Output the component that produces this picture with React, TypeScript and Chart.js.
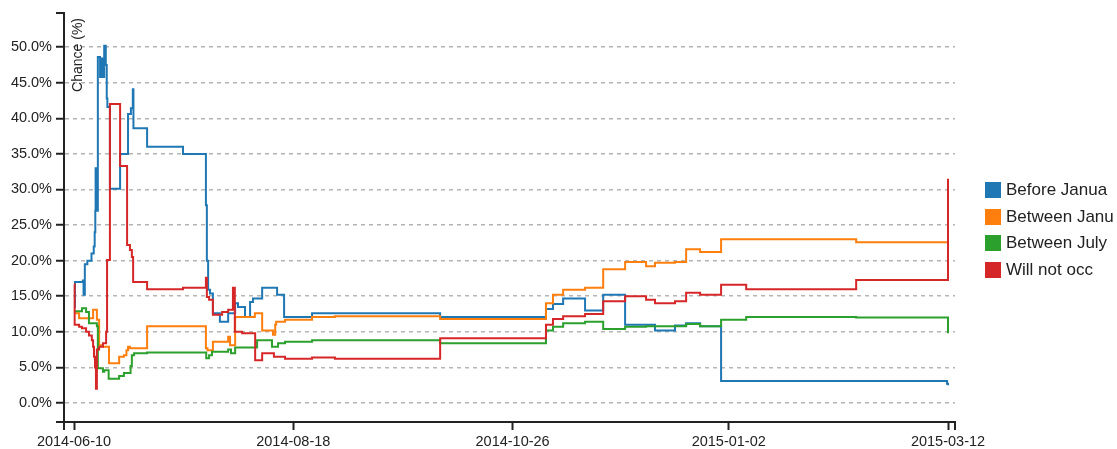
import React, { useEffect, useRef } from 'react';
import { Chart, registerables } from 'chart.js';

Chart.register(...registerables);

// ---------- data ----------
// x = days since 2014-06-10, y = chance in %
const xTickDays = [0, 69, 138, 206, 275];
const xTickLabels = ['2014-06-10', '2014-08-18', '2014-10-26', '2015-01-02', '2015-03-12'];
const yTicks = [0, 5, 10, 15, 20, 25, 30, 35, 40, 45, 50];
const yTitle = 'Chance (%)';

const seriesNames = ['Before Janua', 'Between Janu', 'Between July', 'Will not occ'];
const seriesColors = ['#1f77b4', '#ff7f0e', '#2ca02c', '#d62728'];

const beforeJanuary: [number, number][] = [
  [0, 13.5], [0.3, 17.0], [2.8, 17.2], [3.0, 15.2], [3.4, 19.5], [4.2, 20.0], [5.5, 21.0],
  [6.2, 22.0], [6.5, 24.0], [6.7, 27.0], [6.8, 33.0], [6.95, 27.0], [7.5, 48.6], [8.2, 45.8],
  [8.8, 48.4], [9.1, 45.8], [9.5, 50.2], [10.0, 47.5], [10.3, 42.8], [10.5, 41.6], [11.3, 30.1],
  [14.5, 35.0], [17.0, 40.6], [17.9, 41.4], [18.5, 44.1], [18.7, 38.6], [23.0, 36.0], [34.3, 35.0],
  [41.5, 27.8], [41.8, 20.0], [42.2, 15.9], [42.8, 15.4], [43.7, 12.6], [45.9, 11.4], [48.5, 12.6],
  [50.7, 14.0], [51.6, 13.5], [53.8, 12.1], [55.4, 14.2], [56.3, 14.7], [59.2, 16.2], [63.9, 15.2],
  [66.1, 12.1], [74.9, 12.6], [115.2, 12.1], [148.5, 13.2], [150.7, 13.9], [153.9, 14.7],
  [160.8, 13.0], [166.5, 15.2], [173.4, 11.0], [182.8, 10.2], [189.1, 10.9], [192.6, 11.2],
  [197.0, 10.8], [203.6, 3.1], [274.7, 2.7], [275, 2.5],
];

const betweenJanuary: [number, number][] = [
  [0, 12.6], [1.6, 11.9], [6.0, 13.1], [7.2, 11.7], [7.9, 8.1], [9.1, 7.9], [11.0, 5.6],
  [14.2, 6.5], [15.7, 6.7], [16.5, 7.4], [17.0, 7.9], [17.6, 7.7], [23.0, 10.8], [41.5, 7.7],
  [42.0, 7.4], [43.7, 8.6], [48.5, 9.3], [49.1, 8.1], [50.7, 12.1], [56.9, 12.6], [59.2, 10.2],
  [62.6, 9.6], [63.3, 11.0], [63.6, 11.4], [66.4, 11.7], [74.9, 12.1], [82.1, 12.2], [115.2, 11.8],
  [148.5, 14.0], [150.7, 15.2], [153.9, 15.9], [160.8, 16.2], [166.5, 18.8], [173.4, 19.8],
  [180.0, 19.2], [182.8, 19.7], [189.1, 19.8], [192.6, 21.6], [197.0, 21.2], [203.6, 23.0],
  [246.1, 22.6], [275, 22.6],
];

const betweenJuly: [number, number][] = [
  [0, 12.9], [2.5, 13.3], [3.8, 12.8], [4.7, 11.2], [7.2, 10.8], [7.5, 4.9], [9.1, 4.4],
  [9.5, 4.6], [10.9, 3.4], [14.2, 3.8], [15.7, 4.2], [17.8, 5.2], [18.2, 6.7], [18.9, 7.0],
  [23.0, 7.1], [41.6, 6.3], [42.5, 6.7], [43.4, 7.2], [48.5, 7.5], [49.4, 7.0], [50.7, 7.8],
  [57.6, 8.8], [62.3, 7.9], [64.2, 8.4], [66.4, 8.6], [74.9, 8.8], [115.2, 8.4], [148.5, 10.2],
  [150.7, 10.7], [153.9, 11.2], [160.8, 11.4], [166.5, 10.4], [173.4, 10.7], [180.0, 10.8],
  [192.6, 11.1], [197.0, 10.8], [203.6, 11.7], [211.5, 12.1], [246.1, 12.0], [275, 9.8],
];

const willNotOccur: [number, number][] = [
  [0, 16.7], [0.2, 11.0], [1.6, 10.7], [2.5, 10.5], [3.8, 10.0], [4.7, 9.5], [5.6, 8.8],
  [6.0, 7.9], [6.3, 6.5], [6.6, 5.0], [6.9, 2.0], [7.2, 7.5], [7.9, 7.9], [9.1, 8.4],
  [10.1, 10.0], [10.4, 20.1], [11.3, 42.0], [14.5, 33.3], [16.7, 22.2], [17.6, 21.5],
  [18.2, 20.5], [18.6, 17.0], [23.0, 16.0], [34.3, 16.2], [41.5, 17.6], [41.8, 14.9],
  [42.5, 14.5], [43.7, 12.4], [46.6, 12.8], [48.5, 13.1], [50.0, 16.2], [50.6, 10.0],
  [52.9, 9.8], [57.0, 6.0], [59.2, 7.0], [62.9, 6.5], [66.4, 6.2], [74.9, 6.4], [82.1, 6.2],
  [115.2, 9.1], [148.5, 11.0], [150.7, 11.8], [153.9, 12.2], [160.8, 12.5], [166.5, 14.3],
  [173.4, 15.0], [180.0, 14.5], [182.8, 14.0], [189.1, 14.3], [192.6, 15.5], [197.0, 15.2],
  [203.6, 16.6], [211.5, 16.0], [246.1, 17.3], [275, 31.5],
];

const seriesData = [beforeJanuary, betweenJanuary, betweenJuly, willNotOccur];

// ---------- styles ----------
const FONT = '"Liberation Sans", Arial, Helvetica, sans-serif';
const TEXT_COLOR = '#222';
const AXIS_COLOR = '#222';
const GRID_COLOR = '#b4b4b4';

const axisExtras = {
  id: 'axisExtras',
  afterDraw(chart: any) {
    const { ctx, chartArea } = chart;
    const { left, right, top, bottom } = chartArea;
    ctx.save();
    ctx.strokeStyle = AXIS_COLOR;
    ctx.lineWidth = 2;
    ctx.setLineDash([]);
    ctx.beginPath();
    ctx.moveTo(left - 8, top);
    ctx.lineTo(left, top);
    ctx.moveTo(left - 8, bottom);
    ctx.lineTo(left, bottom);
    ctx.moveTo(left, bottom);
    ctx.lineTo(left, bottom + 8);
    ctx.moveTo(right, bottom);
    ctx.lineTo(right, bottom + 8);
    ctx.stroke();
    ctx.translate(left + 7, top + 5);
    ctx.rotate(-Math.PI / 2);
    ctx.font = `14px ${FONT}`;
    ctx.fillStyle = TEXT_COLOR;
    ctx.textAlign = 'right';
    ctx.textBaseline = 'top';
    ctx.fillText(yTitle, 0, 0);
    ctx.restore();
  },
};

export default function App() {
  const ref = useRef<HTMLCanvasElement>(null);

  useEffect(() => {
    const canvas = ref.current!;
    const chart = new Chart(canvas, {
      type: 'line',
      data: {
        datasets: seriesData.map((s, i) => ({
          label: seriesNames[i],
          data: s.map(([x, y]) => ({ x, y })),
          borderColor: seriesColors[i],
          backgroundColor: seriesColors[i],
          borderWidth: 2,
          pointRadius: 0,
          stepped: 'before' as const,
          fill: false,
          order: seriesData.length - 1 - i,
        })),
      },
      options: {
        animation: false,
        responsive: false,
        events: [],
        layout: { padding: { top: 13, right: 162, bottom: 0, left: 0 } },
        plugins: {
          legend: { display: false },
          tooltip: { enabled: false },
        },
        scales: {
          x: {
            type: 'linear',
            min: -3.15,
            max: 277.2,
            afterBuildTicks: (s: any) => {
              s.ticks = xTickDays.map((v) => ({ value: v }));
            },
            afterFit: (s: any) => {
              s.height = 27;
            },
            ticks: {
              autoSkip: false,
              maxRotation: 0,
              padding: 3,
              color: TEXT_COLOR,
              font: { family: FONT, size: 14.5 },
              callback: (v: any) => {
                const i = xTickDays.indexOf(Number(v));
                return i >= 0 ? xTickLabels[i] : '';
              },
            },
            grid: {
              drawOnChartArea: false,
              drawTicks: true,
              tickLength: 8,
              tickColor: AXIS_COLOR,
              tickWidth: 2,
            },
            border: { display: true, color: AXIS_COLOR, width: 2 },
          },
          y: {
            type: 'linear',
            min: -2.67,
            max: 54.8,
            afterBuildTicks: (s: any) => {
              s.ticks = yTicks.map((v) => ({ value: v }));
            },
            afterFit: (s: any) => {
              s.width = 64;
            },
            ticks: {
              padding: 4,
              color: TEXT_COLOR,
              font: { family: FONT, size: 14.5 },
              callback: (v: any) => Number(v).toFixed(1) + '%',
            },
            grid: {
              color: GRID_COLOR,
              lineWidth: 1.5,
              drawTicks: true,
              tickLength: 8,
              tickColor: AXIS_COLOR,
              tickWidth: 2,
              tickBorderDash: [],
            } as any,
            border: { display: true, color: AXIS_COLOR, width: 2, dash: [4, 4] },
          },
        },
      },
      plugins: [axisExtras],
    } as any);
    return () => chart.destroy();
  }, []);

  return (
    <div style={{ position: 'absolute', left: 0, top: 0, width: 1117, height: 449, background: '#fff' }}>
      <canvas ref={ref} width={1117} height={449} style={{ display: 'block' }} />
      <div
        style={{
          position: 'absolute',
          left: 985,
          top: 182,
          fontFamily: FONT,
          fontSize: 17,
          color: TEXT_COLOR,
        }}
      >
        {seriesNames.map((name, i) => (
          <div
            key={name}
            style={{ display: 'flex', alignItems: 'center', height: 16, marginBottom: 10.5, whiteSpace: 'nowrap' }}
          >
            <span
              style={{ display: 'inline-block', width: 16, height: 16, background: seriesColors[i], marginRight: 5 }}
            />
            {name}
          </div>
        ))}
      </div>
    </div>
  );
}
